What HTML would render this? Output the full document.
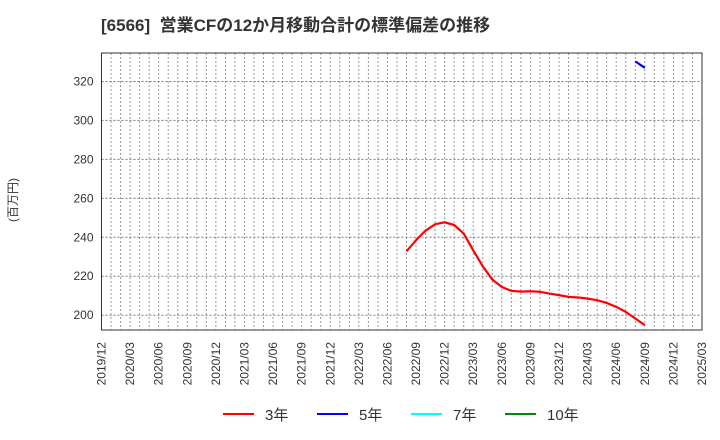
<!DOCTYPE html>
<html><head><meta charset="utf-8"><style>
body{margin:0;background:#fff;}
svg{display:block;font-family:"Liberation Sans","Noto Sans CJK JP",sans-serif;}
</style></head><body>
<svg id="chart" width="720" height="440">
<text x="101" y="31" font-size="17" font-weight="bold" fill="#333" style="white-space:pre">[6566]  営業CFの12か月移動合計の標準偏差の推移</text>
<text transform="translate(17,200) rotate(-90)" text-anchor="middle" font-size="12" fill="#333">(百万円)</text>
<g id="grid"></g><g id="series"></g><g id="axes"></g>
<g>
<g><line x1="223" y1="414" x2="254" y2="414" stroke="#f00" stroke-width="2"/><text x="265" y="420" font-size="15" fill="#333">3年</text></g>
<g><line x1="317" y1="414" x2="348" y2="414" stroke="#00f" stroke-width="2"/><text x="359" y="420" font-size="15" fill="#333">5年</text></g>
<g><line x1="411" y1="414" x2="442" y2="414" stroke="#0ff" stroke-width="2"/><text x="453" y="420" font-size="15" fill="#333">7年</text></g>
<g><line x1="505" y1="414" x2="536" y2="414" stroke="#080" stroke-width="2"/><text x="547" y="420" font-size="15" fill="#333">10年</text></g>
</g>
</svg>
<script>
const xLabels=["2019/12","2020/03","2020/06","2020/09","2020/12","2021/03","2021/06","2021/09","2021/12","2022/03","2022/06","2022/09","2022/12","2023/03","2023/06","2023/09","2023/12","2024/03","2024/06","2024/09","2024/12","2025/03"];
const yTicks=[200,220,240,260,280,300,320];
const s3Start=32;
const s3Values=[232.8,238.5,243.4,246.7,247.7,246.3,241.9,233.3,225.1,218.3,214.5,212.5,212.1,212.3,212,211.1,210.3,209.4,209.1,208.5,207.7,206.3,204.3,201.7,198.3,194.9];
const s5Start=56;
const s5Values=[330.3,327.0];
const L=101.5,R=702,T=53,B=330,M=63,YMIN=192.4,YMAX=334.6;
const X=m=>L+(R-L)*m/M;
const Y=v=>B-(B-T)*(v-YMIN)/(YMAX-YMIN);
const NS="http://www.w3.org/2000/svg";
function mk(tag,attrs,parent){const e=document.createElementNS(NS,tag);for(const k in attrs)e.setAttribute(k,attrs[k]);parent.appendChild(e);return e;}
const grid=document.getElementById('grid'),axes=document.getElementById('axes'),ser=document.getElementById('series');
for(let m=1;m<M;m++){const l=mk('line',{x1:X(m),x2:X(m),y1:T,y2:B,stroke:'#999','stroke-width':1,'stroke-dasharray':'2,2'},grid);

}
yTicks.forEach(v=>{const l=mk('line',{x1:L,x2:R,y1:Y(v),y2:Y(v),stroke:'#777','stroke-width':1,'stroke-dasharray':'2,2'},grid);


const t=mk('text',{x:L-8,y:Y(v)+4,'text-anchor':'end','font-size':12,fill:'#333'},axes);t.textContent=v;

});
xLabels.forEach((s,i)=>{const x=X(i*3);const t=mk('text',{transform:`translate(${x+4},342) rotate(-90)`,'text-anchor':'end','font-size':12,fill:'#333'},axes);t.textContent=s;

});
const fr=mk('rect',{x:L,y:T,width:R-L,height:B-T,fill:'none',stroke:'#333','stroke-width':1},axes);


function line(start,vals,color,name){const p=mk('polyline',{points:vals.map((v,i)=>X(start+i)+','+Y(v)).join(' '),fill:'none',stroke:color,'stroke-width':2.2},ser);

}
line(s3Start,s3Values,'#f00','series-3y');
line(s5Start,s5Values,'#00f','series-5y');
</script>
</body></html>
